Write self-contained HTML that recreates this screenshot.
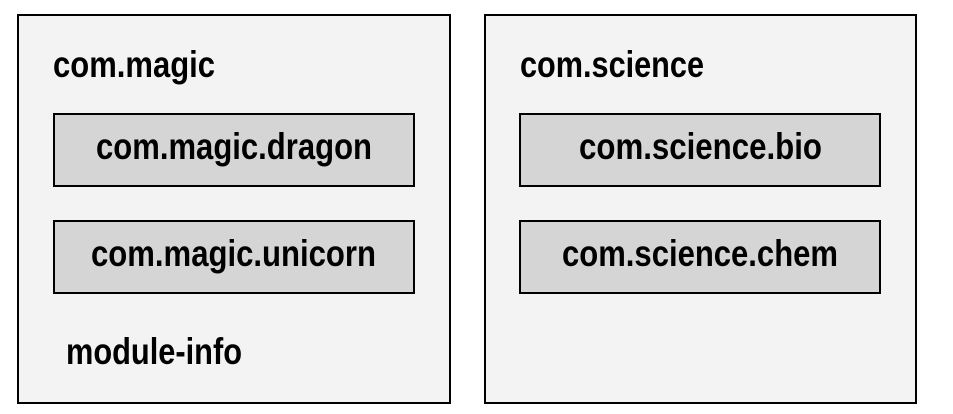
<!DOCTYPE html>
<html><head><style>html,body{margin:0;padding:0;background:#fff}svg{display:block}</style></head>
<body>
<svg width="953" height="414" xmlns="http://www.w3.org/2000/svg" font-family="Liberation Sans, sans-serif" font-weight="bold" font-size="37">
<rect x="18" y="15" width="432" height="388" fill="#f3f3f3" stroke="#000" stroke-width="2"/>
<rect x="485" y="15" width="431" height="388" fill="#f3f3f3" stroke="#000" stroke-width="2"/>
<rect x="54" y="114" width="360" height="72" fill="#d5d5d5" stroke="#000" stroke-width="2"/>
<rect x="54" y="221" width="360" height="72" fill="#d5d5d5" stroke="#000" stroke-width="2"/>
<rect x="520" y="114" width="360" height="72" fill="#d5d5d5" stroke="#000" stroke-width="2"/>
<rect x="520" y="221" width="360" height="72" fill="#d5d5d5" stroke="#000" stroke-width="2"/>
<text x="53" y="77" textLength="162" lengthAdjust="spacingAndGlyphs">com.magic</text>
<text x="96" y="159" textLength="276" lengthAdjust="spacingAndGlyphs">com.magic.dragon</text>
<text x="91" y="266" textLength="285" lengthAdjust="spacingAndGlyphs">com.magic.unicorn</text>
<text x="66" y="364" textLength="176" lengthAdjust="spacingAndGlyphs">module-info</text>
<text x="520" y="77" textLength="184" lengthAdjust="spacingAndGlyphs">com.science</text>
<text x="579" y="159" textLength="243" lengthAdjust="spacingAndGlyphs">com.science.bio</text>
<text x="562" y="266" textLength="276" lengthAdjust="spacingAndGlyphs">com.science.chem</text>
</svg>
</body></html>
